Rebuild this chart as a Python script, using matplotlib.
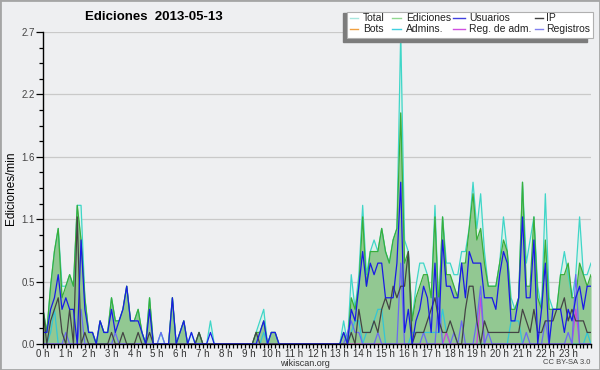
import numpy as np
import matplotlib.pyplot as plt
from matplotlib.ticker import FixedLocator, MultipleLocator
from matplotlib.lines import Line2D
from matplotlib.patches import Rectangle

plt.rcParams['font.family'] = ['Liberation Sans', 'DejaVu Sans']

# ediciones/min en tramos de 10 minutos: una fila por hora, el ultimo valor es 24 h
total = [
    0.3, 0.1, 0.5, 0.8, 1.0, 0.5,   # 0 h
    0.5, 0.6, 0.5, 1.2, 1.2, 0.4,   # 1 h
    0.1, 0.1, 0.0, 0.2, 0.1, 0.1,   # 2 h
    0.4, 0.2, 0.2, 0.3, 0.5, 0.2,   # 3 h
    0.2, 0.3, 0.1, 0.0, 0.4, 0.0,   # 4 h
    0.0, 0.1, 0.0, 0.0, 0.4, 0.0,   # 5 h
    0.1, 0.2, 0.0, 0.1, 0.0, 0.1,   # 6 h
    0.0, 0.0, 0.2, 0.0, 0.0, 0.0,   # 7 h
    0.0, 0.0, 0.0, 0.0, 0.0, 0.0,   # 8 h
    0.0, 0.0, 0.1, 0.2, 0.3, 0.0,   # 9 h
    0.1, 0.1, 0.0, 0.0, 0.0, 0.0,   # 10 h
    0.0, 0.0, 0.0, 0.0, 0.0, 0.0,   # 11 h
    0.0, 0.0, 0.0, 0.0, 0.0, 0.0,   # 12 h
    0.0, 0.2, 0.0, 0.6, 0.3, 0.6,   # 13 h
    1.2, 0.6, 0.8, 0.9, 0.8, 1.0,   # 14 h
    0.8, 0.7, 0.9, 1.0, 2.7, 0.9,   # 15 h
    0.8, 0.2, 0.5, 0.7, 0.7, 0.6,   # 16 h
    0.4, 1.2, 0.3, 1.1, 0.7, 0.7,   # 17 h
    0.6, 0.6, 0.8, 0.8, 1.0, 1.4,   # 18 h
    1.0, 1.3, 0.8, 0.5, 0.5, 0.5,   # 19 h
    0.7, 1.1, 0.8, 0.4, 0.3, 0.4,   # 20 h
    1.4, 0.7, 0.9, 1.1, 0.5, 0.3,   # 21 h
    1.3, 0.4, 0.3, 0.3, 0.6, 0.8,   # 22 h
    0.6, 0.4, 0.6, 1.1, 0.6, 0.6,   # 23 h
    0.7,
]

ediciones = [
    0.3, 0.1, 0.5, 0.8, 1.0, 0.4,
    0.5, 0.6, 0.5, 1.2, 0.9, 0.4,
    0.1, 0.1, 0.0, 0.2, 0.1, 0.1,
    0.4, 0.2, 0.2, 0.3, 0.5, 0.2,
    0.2, 0.3, 0.1, 0.0, 0.4, 0.0,
    0.0, 0.0, 0.0, 0.0, 0.4, 0.0,
    0.1, 0.2, 0.0, 0.0, 0.0, 0.1,
    0.0, 0.0, 0.0, 0.0, 0.0, 0.0,
    0.0, 0.0, 0.0, 0.0, 0.0, 0.0,
    0.0, 0.0, 0.1, 0.1, 0.2, 0.0,
    0.1, 0.1, 0.0, 0.0, 0.0, 0.0,
    0.0, 0.0, 0.0, 0.0, 0.0, 0.0,
    0.0, 0.0, 0.0, 0.0, 0.0, 0.0,
    0.0, 0.1, 0.0, 0.4, 0.3, 0.5,
    1.1, 0.5, 0.8, 0.8, 0.8, 1.0,
    0.8, 0.7, 0.9, 1.0, 2.0, 0.7,
    0.8, 0.2, 0.4, 0.5, 0.6, 0.6,
    0.4, 1.1, 0.3, 1.1, 0.6, 0.6,
    0.5, 0.4, 0.7, 0.7, 1.0, 1.3,
    0.9, 1.0, 0.7, 0.5, 0.5, 0.5,
    0.7, 0.9, 0.8, 0.3, 0.3, 0.4,
    1.4, 0.5, 0.5, 1.1, 0.4, 0.3,
    0.9, 0.3, 0.3, 0.3, 0.6, 0.6,
    0.7, 0.4, 0.4, 0.7, 0.6, 0.5,
    0.6,
]

usuarios = [
    0.1, 0.1, 0.3, 0.4, 0.6, 0.3,
    0.4, 0.3, 0.3, 0.0, 0.9, 0.3,
    0.1, 0.1, 0.0, 0.2, 0.1, 0.1,
    0.3, 0.1, 0.2, 0.3, 0.5, 0.2,
    0.2, 0.2, 0.1, 0.0, 0.3, 0.0,
    0.0, 0.0, 0.0, 0.0, 0.4, 0.0,
    0.1, 0.2, 0.0, 0.1, 0.0, 0.0,
    0.0, 0.0, 0.1, 0.0, 0.0, 0.0,
    0.0, 0.0, 0.0, 0.0, 0.0, 0.0,
    0.0, 0.0, 0.0, 0.1, 0.2, 0.0,
    0.1, 0.1, 0.0, 0.0, 0.0, 0.0,
    0.0, 0.0, 0.0, 0.0, 0.0, 0.0,
    0.0, 0.0, 0.0, 0.0, 0.0, 0.0,
    0.0, 0.1, 0.0, 0.3, 0.2, 0.5,
    0.8, 0.5, 0.7, 0.6, 0.7, 0.7,
    0.4, 0.4, 0.4, 0.7, 1.4, 0.1,
    0.3, 0.0, 0.2, 0.3, 0.5, 0.4,
    0.1, 0.7, 0.1, 0.9, 0.5, 0.5,
    0.4, 0.4, 0.7, 0.4, 0.8, 0.7,
    0.7, 0.7, 0.4, 0.4, 0.4, 0.3,
    0.6, 0.8, 0.7, 0.2, 0.2, 0.4,
    1.1, 0.4, 0.4, 0.9, 0.0, 0.3,
    0.7, 0.0, 0.3, 0.3, 0.3, 0.1,
    0.3, 0.2, 0.4, 0.5, 0.3, 0.5,
    0.5,
]

ip = [
    0.3, 0.0, 0.2, 0.3, 0.4, 0.1,
    0.0, 0.3, 0.0, 1.1, 0.0, 0.1,
    0.0, 0.0, 0.0, 0.0, 0.0, 0.0,
    0.1, 0.0, 0.0, 0.1, 0.0, 0.0,
    0.0, 0.1, 0.0, 0.0, 0.1, 0.0,
    0.0, 0.0, 0.0, 0.0, 0.0, 0.0,
    0.0, 0.0, 0.0, 0.0, 0.0, 0.1,
    0.0, 0.0, 0.0, 0.0, 0.0, 0.0,
    0.0, 0.0, 0.0, 0.0, 0.0, 0.0,
    0.0, 0.0, 0.1, 0.0, 0.0, 0.0,
    0.0, 0.0, 0.0, 0.0, 0.0, 0.0,
    0.0, 0.0, 0.0, 0.0, 0.0, 0.0,
    0.0, 0.0, 0.0, 0.0, 0.0, 0.0,
    0.0, 0.0, 0.0, 0.1, 0.0, 0.3,
    0.1, 0.1, 0.1, 0.2, 0.1, 0.3,
    0.4, 0.3, 0.5, 0.4, 0.5, 0.5,
    0.8, 0.0, 0.1, 0.1, 0.1, 0.2,
    0.3, 0.4, 0.2, 0.1, 0.1, 0.2,
    0.1, 0.0, 0.0, 0.3, 0.5, 0.5,
    0.2, 0.0, 0.2, 0.1, 0.1, 0.1,
    0.1, 0.1, 0.1, 0.1, 0.1, 0.1,
    0.3, 0.2, 0.1, 0.3, 0.1, 0.1,
    0.2, 0.2, 0.2, 0.3, 0.3, 0.4,
    0.2, 0.3, 0.2, 0.2, 0.2, 0.1,
    0.1,
]

admins = [
    0.0, 0.0, 0.1, 0.3, 0.0, 0.0,
    0.0, 0.0, 0.0, 0.0, 0.0, 0.0,
    0.0, 0.0, 0.0, 0.0, 0.0, 0.0,
    0.0, 0.0, 0.0, 0.0, 0.0, 0.0,
    0.0, 0.0, 0.0, 0.0, 0.0, 0.0,
    0.0, 0.0, 0.0, 0.0, 0.0, 0.0,
    0.0, 0.0, 0.0, 0.0, 0.0, 0.0,
    0.0, 0.0, 0.0, 0.0, 0.0, 0.0,
    0.0, 0.0, 0.0, 0.0, 0.0, 0.0,
    0.0, 0.0, 0.0, 0.0, 0.1, 0.0,
    0.0, 0.0, 0.0, 0.0, 0.0, 0.0,
    0.0, 0.0, 0.0, 0.0, 0.0, 0.0,
    0.0, 0.0, 0.0, 0.0, 0.0, 0.0,
    0.0, 0.0, 0.0, 0.1, 0.2, 0.2,
    0.0, 0.1, 0.1, 0.2, 0.3, 0.3,
    0.0, 0.0, 0.0, 0.0, 0.0, 0.0,
    0.0, 0.1, 0.1, 0.1, 0.1, 0.1,
    0.1, 0.1, 0.1, 0.3, 0.1, 0.0,
    0.0, 0.0, 0.0, 0.0, 0.0, 0.0,
    0.0, 0.0, 0.0, 0.0, 0.0, 0.0,
    0.0, 0.0, 0.0, 0.2, 0.2, 0.2,
    0.0, 0.0, 0.0, 0.0, 0.0, 0.0,
    0.0, 0.0, 0.0, 0.0, 0.0, 0.0,
    0.0, 0.0, 0.0, 0.0, 0.0, 0.1,
    0.0,
]

reg_adm = [0.0] * 145
reg_adm_bins = {106: 0.1, 115: 0.4, 140: 0.3}

registros = [
    0.0, 0.0, 0.0, 0.0, 0.0, 0.0,
    0.1, 0.0, 0.0, 0.0, 0.3, 0.0,
    0.0, 0.0, 0.0, 0.0, 0.0, 0.0,
    0.0, 0.1, 0.0, 0.0, 0.0, 0.0,
    0.0, 0.0, 0.0, 0.0, 0.0, 0.0,
    0.0, 0.1, 0.0, 0.0, 0.0, 0.0,
    0.0, 0.0, 0.0, 0.0, 0.0, 0.0,
    0.0, 0.0, 0.0, 0.0, 0.0, 0.0,
    0.0, 0.0, 0.0, 0.0, 0.0, 0.0,
    0.0, 0.0, 0.0, 0.0, 0.0, 0.0,
    0.0, 0.0, 0.0, 0.0, 0.0, 0.0,
    0.0, 0.0, 0.0, 0.0, 0.0, 0.0,
    0.0, 0.0, 0.0, 0.0, 0.0, 0.0,
    0.0, 0.0, 0.1, 0.2, 0.1, 0.1,
    0.0, 0.0, 0.0, 0.0, 0.1, 0.0,
    0.0, 0.0, 0.0, 0.0, 0.7, 0.0,
    0.0, 0.0, 0.0, 0.0, 0.1, 0.0,
    0.0, 0.0, 0.4, 0.0, 0.0, 0.0,
    0.1, 0.0, 0.2, 0.0, 0.0, 0.0,
    0.2, 0.5, 0.0, 0.1, 0.0, 0.0,
    0.0, 0.0, 0.0, 0.0, 0.0, 0.0,
    0.0, 0.1, 0.0, 0.0, 0.0, 0.0,
    0.2, 0.0, 0.0, 0.0, 0.0, 0.0,
    0.1, 0.0, 0.6, 0.0, 0.0, 0.0,
    0.0,
]

bots = [0.0] * 145

for k, v in reg_adm_bins.items():
    reg_adm[k] = v

x = np.arange(len(total)) / 6.0

W, H = 600, 370
fig = plt.figure(figsize=(6, 3.7), dpi=100, facecolor='#eeeff1')
ax = fig.add_axes([43 / W, 26 / H, 548 / W, 312 / H])
ax.set_facecolor('#eeeff1')

# areas
ax.fill_between(x, total, color='#dcf1ea', lw=0, zorder=1)
ax.fill_between(x, ediciones, color='#92c892', lw=0, zorder=2)

# lineas
ax.plot(x, total, color='#3fd6c8', lw=0.9, zorder=3)
ax.plot(x, ediciones, color='#3aae3a', lw=0.9, zorder=3)
ax.plot(x, bots, color='#f0a040', lw=0.9, zorder=3)
ax.plot(x, admins, color='#33c6d6', lw=0.9, zorder=4)
ax.plot(x, reg_adm, color='#cc44dd', lw=0.9, zorder=4)
ax.plot(x, registros, color='#6a6af2', lw=0.9, zorder=4)
ax.plot(x, ip, color='#444444', lw=0.9, zorder=5)
ax.plot(x, usuarios, color='#1a1ae6', lw=0.9, zorder=6)

ax.set_xlim(0, 24)
ax.set_ylim(0, 2.7)

yt = [0, 0.54, 1.08, 1.62, 2.16, 2.7]
ax.yaxis.set_major_locator(FixedLocator(yt))
ax.set_yticklabels(['0.0', '0.5', '1.1', '1.6', '2.2', '2.7'])
ax.yaxis.set_minor_locator(MultipleLocator(0.135))
ax.yaxis.grid(True, which='major', color='#c9c9c9', lw=0.9)
ax.set_axisbelow(True)

ax.set_xticks(range(24))
ax.set_xticklabels([f'{h} h' for h in range(24)])
ax.xaxis.set_minor_locator(MultipleLocator(1 / 6))

ax.tick_params(axis='y', which='major', length=5, width=0.9, labelsize=7,
               labelcolor='#444444', pad=1)
ax.tick_params(axis='y', which='minor', length=3, width=0.9)
ax.tick_params(axis='x', which='both', length=3, width=0.9, labelsize=7,
               labelcolor='#333333', pad=0.5)
for s in ['top', 'right']:
    ax.spines[s].set_visible(False)
for s in ['left', 'bottom']:
    ax.spines[s].set_linewidth(1.0)
    ax.spines[s].set_zorder(10)

ax.set_ylabel('Ediciones/min', fontsize=8.5, labelpad=3)

fig.text(154 / W, 1 - 17 / H, 'Ediciones  2013-05-13', fontsize=9.5,
         fontweight='bold', ha='center', va='center')

# leyenda con sombra
fig.patches.append(Rectangle((343 / W, 1 - 42 / H), 244 / W, 29 / H,
                             transform=fig.transFigure, color='#7c7c7c', zorder=20))
fig.patches.append(Rectangle((347 / W, 1 - 38 / H), 246 / W, 26 / H,
                             transform=fig.transFigure, facecolor='white',
                             edgecolor='#b0b0b0', lw=0.8, zorder=21))
legend_items = [
    ('Total', '#a8e6de', 350, 358, 363, 18),
    ('Bots', '#f0a040', 350, 358, 363, 29),
    ('Ediciones', '#90d890', 392, 401, 406, 18),
    ('Admins.', '#40d0e0', 392, 401, 406, 29),
    ('Usuarios', '#4040e0', 453, 465, 469, 18),
    ('Reg. de adm.', '#d050e0', 453, 465, 469, 29),
    ('IP', '#404040', 535, 543, 546, 18),
    ('Registros', '#8080f0', 535, 543, 546, 29),
]
for label, col, x0, x1, xt, yp in legend_items:
    fig.lines.append(Line2D([x0 / W, x1 / W], [1 - yp / H, 1 - yp / H],
                            transform=fig.transFigure, color=col, lw=1, zorder=22))
    fig.text(xt / W, 1 - yp / H, label, fontsize=7.5, va='center', ha='left',
             color='#222222', zorder=23)

fig.text(305 / W, 1 - 363.5 / H, 'wikiscan.org', fontsize=6.5, ha='center',
         va='center', color='#333333')
fig.text(590 / W, 1 - 363 / H, 'CC BY-SA 3.0', fontsize=5.5, ha='right',
         va='center', color='#444444')

# marco exterior
fig.patches.append(Rectangle((0, 0), 1, 1, transform=fig.transFigure, fill=False,
                             edgecolor='#a5a5a5', lw=2, zorder=30))

plt.savefig('out.png', dpi=100, facecolor=fig.get_facecolor())
